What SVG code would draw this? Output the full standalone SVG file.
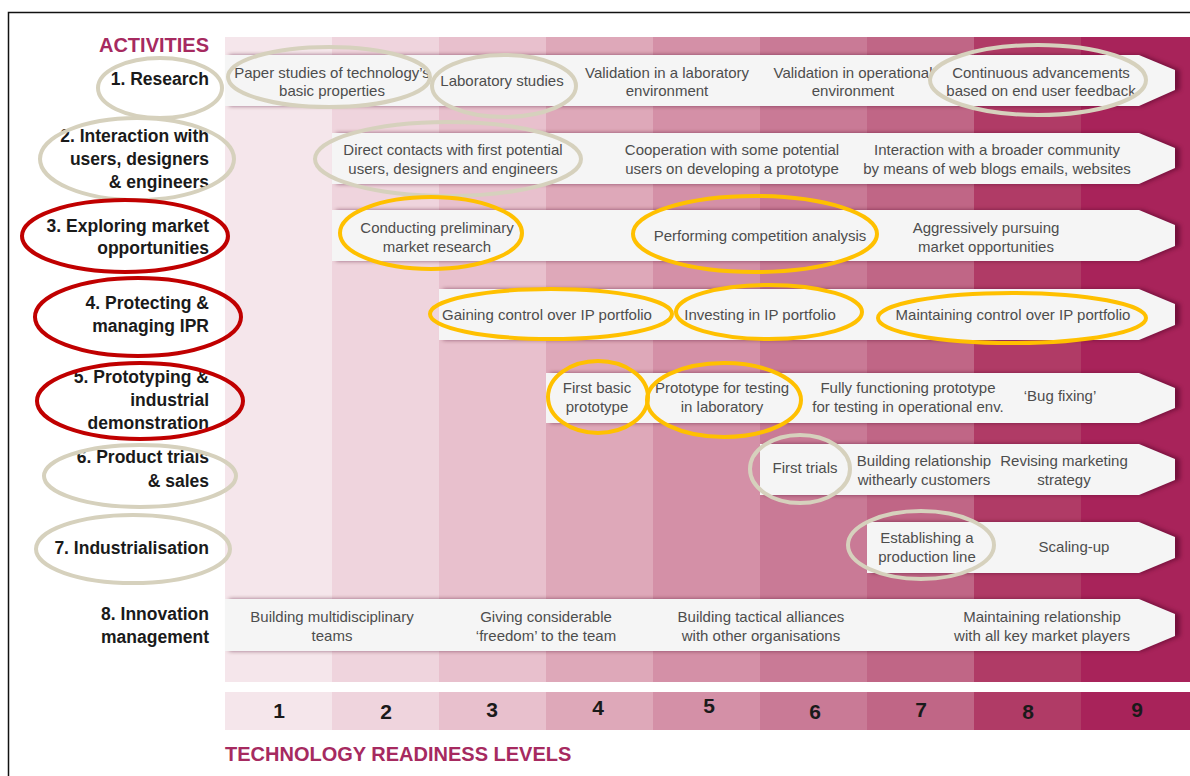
<svg xmlns="http://www.w3.org/2000/svg" width="1190" height="776" viewBox="0 0 1190 776">
<defs>
<filter id="sh" x="-20%" y="-20%" width="140%" height="140%"><feGaussianBlur stdDeviation="2"/></filter>
</defs>
<style>
.lab{font-family:"Liberation Sans",Arial,sans-serif;font-weight:bold;font-size:17.5px;fill:#1a1a1a;text-anchor:end}
.t{font-family:"Liberation Sans",Arial,sans-serif;font-size:15px;fill:#4d4d4d;text-anchor:middle}
.num{font-family:"Liberation Sans",Arial,sans-serif;font-weight:bold;font-size:21px;fill:#1a1a1a;text-anchor:middle}
.head{font-family:"Liberation Sans",Arial,sans-serif;font-weight:bold;font-size:20px;fill:#a62a60}
.band{fill:#f5f5f5}
.shadow{fill:#4a0522;opacity:0.55;filter:url(#sh)}
.beige{fill:none;stroke:#d6d1bd;stroke-width:4}
.red{fill:none;stroke:#c00000;stroke-width:4}
.orange{fill:none;stroke:#ffc000;stroke-width:4}
</style>
<rect width="1190" height="776" fill="#ffffff"/>
<path d="M8.5,776 V12.5 H1190" fill="none" stroke="#111" stroke-width="1.5"/>

<g id="columns">
<rect x="225" y="37" width="107" height="645" fill="#f5e6eb"/>
<rect x="332" y="37" width="107" height="645" fill="#efd4dd"/>
<rect x="439" y="37" width="107" height="645" fill="#e8c0cd"/>
<rect x="546" y="37" width="107" height="645" fill="#dea8b9"/>
<rect x="653" y="37" width="107" height="645" fill="#d490a7"/>
<rect x="760" y="37" width="107" height="645" fill="#c97a96"/>
<rect x="867" y="37" width="107" height="645" fill="#c06686"/>
<rect x="974" y="37" width="107" height="645" fill="#b03b66"/>
<rect x="1081" y="37" width="109" height="645" fill="#a8235a"/>
</g>

<g id="trl-scale">
<rect x="225" y="692" width="107" height="38" fill="#f5e6eb"/>
<rect x="332" y="692" width="107" height="38" fill="#efd4dd"/>
<rect x="439" y="692" width="107" height="38" fill="#e8c0cd"/>
<rect x="546" y="692" width="107" height="38" fill="#dea8b9"/>
<rect x="653" y="692" width="107" height="38" fill="#d490a7"/>
<rect x="760" y="692" width="107" height="38" fill="#c97a96"/>
<rect x="867" y="692" width="107" height="38" fill="#c06686"/>
<rect x="974" y="692" width="107" height="38" fill="#b03b66"/>
<rect x="1081" y="692" width="109" height="38" fill="#a8235a"/>
<text class="num" x="279" y="718">1</text>
<text class="num" x="386" y="719">2</text>
<text class="num" x="492" y="717">3</text>
<text class="num" x="598" y="715">4</text>
<text class="num" x="709" y="713">5</text>
<text class="num" x="815" y="719">6</text>
<text class="num" x="921" y="717">7</text>
<text class="num" x="1028" y="719">8</text>
<text class="num" x="1137" y="717">9</text>
</g>

<text class="head" x="209" y="52" text-anchor="end">ACTIVITIES</text>
<text class="head" x="225" y="761">TECHNOLOGY READINESS LEVELS</text>

<g id="row-1">
<polygon class="shadow" points="229,55 1143,55 1180,70 1180,90 1143,106 229,106"/>
<polygon class="band" points="225,55 1139,55 1175,70 1175,90 1139,106 225,106"/>
<text class="lab" x="209" y="85">1. Research</text>
<text class="t" x="332" y="78">Paper studies of technology’s</text>
<text class="t" x="332" y="96">basic properties</text>
<text class="t" x="502" y="86">Laboratory studies</text>
<text class="t" x="667" y="78">Validation in a laboratory</text>
<text class="t" x="667" y="96">environment</text>
<text class="t" x="853" y="78">Validation in operational</text>
<text class="t" x="853" y="96">environment</text>
<text class="t" x="1041" y="78">Continuous advancements</text>
<text class="t" x="1041" y="96">based on end user feedback</text>
</g>

<g id="row-2">
<polygon class="shadow" points="336,133 1143,133 1180,148 1180,168 1143,184 336,184"/>
<polygon class="band" points="332,133 1139,133 1175,148 1175,168 1139,184 332,184"/>
<text class="lab" x="209" y="142">2. Interaction with</text>
<text class="lab" x="209" y="165">users, designers</text>
<text class="lab" x="209" y="188">&amp; engineers</text>
<text class="t" x="453" y="155">Direct contacts with first potential</text>
<text class="t" x="453" y="174">users, designers and engineers</text>
<text class="t" x="732" y="155">Cooperation with some potential</text>
<text class="t" x="732" y="174">users on developing a prototype</text>
<text class="t" x="997" y="155">Interaction with a broader community</text>
<text class="t" x="997" y="174">by means of web blogs emails, websites</text>
</g>

<g id="row-3">
<polygon class="shadow" points="336,210 1143,210 1180,225 1180,246 1143,261 336,261"/>
<polygon class="band" points="332,210 1139,210 1175,225 1175,246 1139,261 332,261"/>
<text class="lab" x="209" y="232">3. Exploring market</text>
<text class="lab" x="209" y="254">opportunities</text>
<text class="t" x="437" y="233">Conducting preliminary</text>
<text class="t" x="437" y="252">market research</text>
<text class="t" x="760" y="241">Performing competition analysis</text>
<text class="t" x="986" y="233">Aggressively pursuing</text>
<text class="t" x="986" y="252">market opportunities</text>
</g>

<g id="row-4">
<polygon class="shadow" points="443,289 1143,289 1180,304 1180,325 1143,340 443,340"/>
<polygon class="band" points="439,289 1139,289 1175,304 1175,325 1139,340 439,340"/>
<text class="lab" x="209" y="309">4. Protecting &amp;</text>
<text class="lab" x="209" y="332">managing IPR</text>
<text class="t" x="547" y="320">Gaining control over IP portfolio</text>
<text class="t" x="760" y="320">Investing in IP portfolio</text>
<text class="t" x="1013" y="320">Maintaining control over IP portfolio</text>
</g>

<g id="row-5">
<polygon class="shadow" points="550,373 1143,373 1180,388 1180,408 1143,423 550,423"/>
<polygon class="band" points="546,373 1139,373 1175,388 1175,408 1139,423 546,423"/>
<text class="lab" x="209" y="383">5. Prototyping &amp;</text>
<text class="lab" x="209" y="406">industrial</text>
<text class="lab" x="209" y="429">demonstration</text>
<text class="t" x="597" y="393">First basic</text>
<text class="t" x="597" y="412">prototype</text>
<text class="t" x="722" y="393">Prototype for testing</text>
<text class="t" x="722" y="412">in laboratory</text>
<text class="t" x="908" y="393">Fully functioning prototype</text>
<text class="t" x="908" y="412">for testing in operational env.</text>
<text class="t" x="1060" y="401">‘Bug fixing’</text>
</g>

<g id="row-6">
<polygon class="shadow" points="764,444 1143,444 1180,459 1180,480 1143,495 764,495"/>
<polygon class="band" points="760,444 1139,444 1175,459 1175,480 1139,495 760,495"/>
<text class="lab" x="209" y="463">6. Product trials</text>
<text class="lab" x="209" y="487">&amp; sales</text>
<text class="t" x="805" y="473">First trials</text>
<text class="t" x="924" y="466">Building relationship</text>
<text class="t" x="924" y="485">withearly customers</text>
<text class="t" x="1064" y="466">Revising marketing</text>
<text class="t" x="1064" y="485">strategy</text>
</g>

<g id="row-7">
<polygon class="shadow" points="871,522 1143,522 1180,537 1180,558 1143,573 871,573"/>
<polygon class="band" points="867,522 1139,522 1175,537 1175,558 1139,573 867,573"/>
<text class="lab" x="209" y="554">7. Industrialisation</text>
<text class="t" x="927" y="543">Establishing a</text>
<text class="t" x="927" y="562">production line</text>
<text class="t" x="1074" y="552">Scaling-up</text>
</g>

<g id="row-8">
<polygon class="shadow" points="229,599 1143,599 1180,614 1180,636 1143,651 229,651"/>
<polygon class="band" points="225,599 1139,599 1175,614 1175,636 1139,651 225,651"/>
<text class="lab" x="209" y="620">8. Innovation</text>
<text class="lab" x="209" y="643">management</text>
<text class="t" x="332" y="622">Building multidisciplinary</text>
<text class="t" x="332" y="641">teams</text>
<text class="t" x="546" y="622">Giving considerable</text>
<text class="t" x="546" y="641">‘freedom’ to the team</text>
<text class="t" x="761" y="622">Building tactical alliances</text>
<text class="t" x="761" y="641">with other organisations</text>
<text class="t" x="1042" y="622">Maintaining relationship</text>
<text class="t" x="1042" y="641">with all key market players</text>
</g>

<g id="highlights">
<ellipse class="beige" cx="160" cy="88" rx="62" ry="30"/>
<ellipse class="beige" cx="137" cy="159" rx="97" ry="41"/>
<ellipse class="red" cx="125" cy="236" rx="103" ry="36"/>
<ellipse class="red" cx="138" cy="317" rx="103" ry="39"/>
<ellipse class="red" cx="140" cy="401" rx="103" ry="38"/>
<ellipse class="beige" cx="140" cy="476" rx="96" ry="31"/>
<ellipse class="beige" cx="133" cy="549" rx="97" ry="34"/>
<ellipse class="beige" cx="329" cy="77" rx="101" ry="30"/>
<ellipse class="beige" cx="504" cy="86" rx="72" ry="31"/>
<ellipse class="beige" cx="1038" cy="80" rx="108" ry="35"/>
<ellipse class="beige" cx="448" cy="159" rx="133" ry="37"/>
<ellipse class="orange" cx="431" cy="233" rx="91" ry="36"/>
<ellipse class="orange" cx="755" cy="234" rx="122" ry="38"/>
<ellipse class="orange" cx="551" cy="314" rx="121" ry="25"/>
<ellipse class="orange" cx="769" cy="312" rx="93" ry="27"/>
<ellipse class="orange" cx="1012" cy="318" rx="134" ry="25"/>
<ellipse class="orange" cx="598" cy="397" rx="50" ry="36"/>
<ellipse class="orange" cx="724" cy="400" rx="77" ry="37"/>
<ellipse class="beige" cx="800" cy="469" rx="50" ry="34"/>
<ellipse class="beige" cx="921" cy="545" rx="73" ry="34"/>
</g>
</svg>
